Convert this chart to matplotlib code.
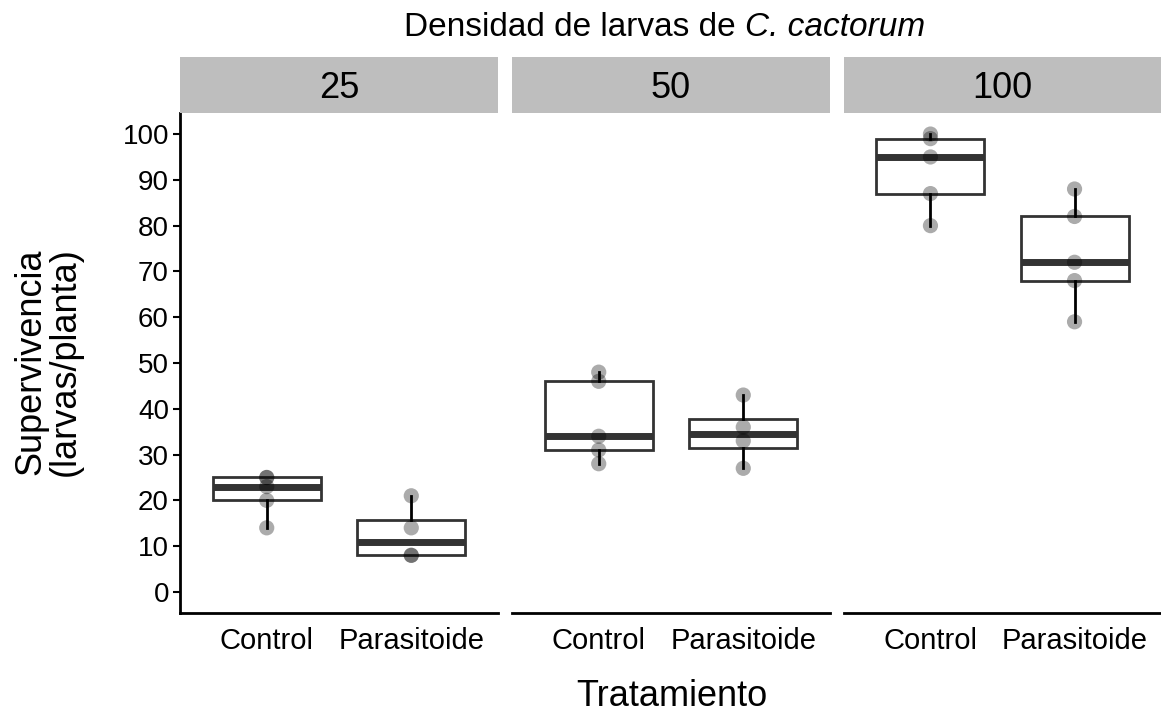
import matplotlib.pyplot as plt

plt.rcParams['font.family'] = ['Liberation Sans', 'DejaVu Sans']

densities = ["25", "50", "100"]
treatments = ["Control", "Parasitoide"]

# survival (larvae per plant), one list per density
control = [
    [14, 20, 23, 25, 25],
    [28, 31, 34, 46, 48],
    [80, 87, 95, 99, 100],
]
parasitoide = [
    [8, 8, 14, 21],
    [27, 33, 36, 43],
    [59, 68, 72, 82, 88],
]

W, H = 1161, 715
fig = plt.figure(figsize=(W / 100, H / 100), dpi=100)

panel_x = [(180, 498), (512, 830), (844, 1161)]
top, bottom = 113, 613
strip_top = 57

edge = "#333333"
for i, (x0, x1) in enumerate(panel_x):
    ax = fig.add_axes([x0 / W, 1 - bottom / H, (x1 - x0) / W, (bottom - top) / H])
    groups = [control[i], parasitoide[i]]
    ax.boxplot(groups, positions=[1, 2], widths=0.75, whis=1.5,
               showcaps=False, showfliers=False, patch_artist=True,
               boxprops=dict(facecolor="white", edgecolor=edge, linewidth=2),
               whiskerprops=dict(color="black", linewidth=2),
               medianprops=dict(color=edge, linewidth=5))
    for pos, vals in zip([1, 2], groups):
        ax.scatter([pos] * len(vals), vals, s=120, color="black", alpha=0.33,
                   edgecolors="none", zorder=5)
    ax.set_xlim(0.4, 2.6)
    ax.set_ylim(-4.6, 104.6)
    ax.set_xticks([1, 2])
    ax.set_xticklabels(treatments, fontsize=21)
    ax.tick_params(axis="x", length=0, pad=10)
    ax.set_yticks(range(0, 101, 10))
    for s in ["top", "right"]:
        ax.spines[s].set_visible(False)
    ax.spines["bottom"].set_linewidth(2)
    if i == 0:
        ax.spines["left"].set_linewidth(2)
        ax.tick_params(axis="y", labelsize=20, width=1.5, length=5, pad=3)
    else:
        ax.spines["left"].set_visible(False)
        ax.tick_params(axis="y", left=False, labelleft=False)

    # facet strip
    sax = fig.add_axes([x0 / W, 1 - top / H, (x1 - x0) / W, (top - strip_top) / H])
    sax.set_facecolor("#bebebe")
    sax.set_xticks([])
    sax.set_yticks([])
    for s in sax.spines.values():
        s.set_visible(False)
    sax.text(0.5, 0.5, densities[i], ha="center", va="center_baseline", fontsize=26,
             transform=sax.transAxes)

# title: regular part followed by the italic species name
t1 = fig.text(404 / W, 1 - 36 / H, "Densidad de larvas de ", ha="left",
              va="baseline", fontsize=24)
sax.annotate("C. cactorum", xy=(1, 0), xycoords=t1, va="bottom", ha="left",
             fontsize=24, style="italic", annotation_clip=False)

fig.text(672 / W, 1 - 706 / H, "Tratamiento", ha="center", va="baseline", fontsize=26)
fig.text(48 / W, 1 - 362 / H, "Supervivencia\n(larvas/planta)", ha="center",
         va="center", rotation=90, fontsize=26, linespacing=0.95)

fig.savefig("out.png", dpi=100)
